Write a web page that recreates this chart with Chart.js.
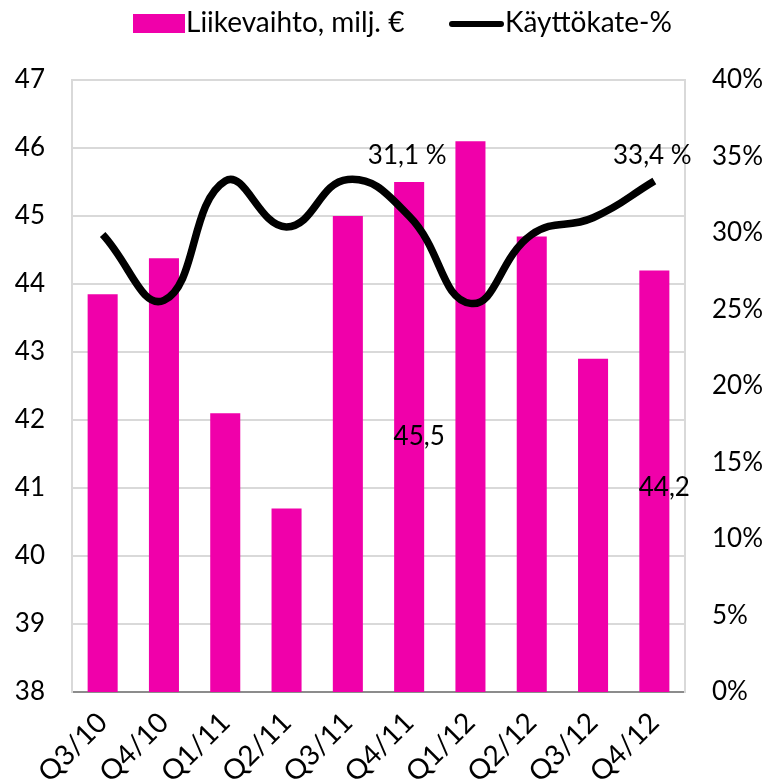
<!DOCTYPE html>
<html>
<head>
<meta charset="utf-8">
<script src="https://cdn.jsdelivr.net/npm/chart.js@4.4.0/dist/chart.umd.min.js"></script>
<style>
  html, body { margin: 0; padding: 0; background: #fff; }
  #wrap { width: 765px; height: 779px; }
</style>
</head>
<body>
<div id="wrap"><canvas id="chart"></canvas></div>
<script>
// Chart data
const quarters = ['Q3/10', 'Q4/10', 'Q1/11', 'Q2/11', 'Q3/11', 'Q4/11', 'Q1/12', 'Q2/12', 'Q3/12', 'Q4/12'];
const revenue = [43.85, 44.38, 42.1, 40.7, 45.0, 45.5, 46.1, 44.7, 42.9, 44.2];
const ebitdaPct = [29.9, 25.6, 33.4, 30.4, 33.5, 31.1, 25.4, 29.9, 31.0, 33.4];
const revenueLabels = ['', '', '', '', '', '45,5', '', '', '', '44,2'];
const ebitdaLabels = ['', '', '', '', '', '31,1 %', '', '', '', '33,4 %'];
const seriesNames = ['Liikevaihto, milj. €', 'Käyttökate-%'];

const MAGENTA = '#F000AA';
const labelFont = '26px Lato';
const legendFont = '28px Lato';
const tickFont = { family: 'Lato', size: 26 };

// Draw legend at the top and the data labels
const customDraw = {
    id: 'customDraw',
    afterDatasetsDraw(chart) {
        const ctx = chart.ctx;
        ctx.save();
        ctx.fillStyle = '#000';
        ctx.textBaseline = 'middle';

        // Legend
        const legendY = 23;
        ctx.font = legendFont;
        ctx.fillStyle = MAGENTA;
        ctx.fillRect(133, legendY - 9, 52, 19);
        ctx.fillStyle = '#000';
        ctx.textAlign = 'left';
        ctx.fillText(seriesNames[0], 186, legendY);
        ctx.strokeStyle = '#000';
        ctx.lineWidth = 6;
        ctx.lineCap = 'round';
        ctx.beginPath();
        ctx.moveTo(452, legendY + 1);
        ctx.lineTo(501, legendY + 1);
        ctx.stroke();
        ctx.fillText(seriesNames[1], 505, legendY);

        // Bar labels (centre of bar, nudged right)
        ctx.font = labelFont;
        ctx.textAlign = 'center';
        const yScale = chart.scales.y;
        const bottom = yScale.getPixelForValue(yScale.min);
        const barMeta = chart.getDatasetMeta(0);
        barMeta.data.forEach((bar, i) => {
            if (!revenueLabels[i]) return;
            const top = yScale.getPixelForValue(revenue[i]);
            const cy = (top + bottom) / 2;
            ctx.fillText(revenueLabels[i], bar.x + 10, cy + (i === 9 ? 6 : 0));
        });

        // Line labels (above point)
        const lineMeta = chart.getDatasetMeta(1);
        lineMeta.data.forEach((pt, i) => {
            if (!ebitdaLabels[i]) return;
            const dy = i === 5 ? 61 : 25;
            ctx.fillText(ebitdaLabels[i], pt.x - 2, pt.y - dy);
        });
        ctx.restore();
    }
};

const ctx = document.getElementById('chart').getContext('2d');
new Chart(ctx, {
    data: {
        labels: quarters,
        datasets: [
            {
                type: 'bar',
                label: seriesNames[0],
                data: revenue,
                backgroundColor: MAGENTA,
                yAxisID: 'y',
                categoryPercentage: 1.0,
                barPercentage: 0.49,
                order: 2
            },
            {
                type: 'line',
                label: seriesNames[1],
                data: ebitdaPct,
                borderColor: '#000',
                borderWidth: 7.5,
                pointRadius: 0,
                tension: 0.45,
                fill: false,
                yAxisID: 'y1',
                order: 1
            }
        ]
    },
    options: {
        responsive: true,
        maintainAspectRatio: false,
        animation: false,
        layout: { padding: { top: 80, left: 0, right: 0, bottom: 0 } },
        plugins: {
            legend: { display: false },
            tooltip: { enabled: false }
        },
        scales: {
            x: {
                grid: { display: false },
                border: { color: '#8c8c8c', width: 2 },
                ticks: {
                    color: '#000',
                    font: { family: 'Lato', size: 28 },
                    minRotation: 45,
                    maxRotation: 45,
                    padding: 6
                },
                afterFit(scale) { scale.height = 87; }
            },
            y: {
                position: 'left',
                min: 38,
                max: 47,
                ticks: { stepSize: 1, color: '#000', font: tickFont, padding: 27 },
                grid: { color: '#d9d9d9', lineWidth: 2, drawTicks: false },
                border: { color: '#d9d9d9', width: 2 },
                afterFit(scale) { scale.width = 72; }
            },
            y1: {
                position: 'right',
                min: 0,
                max: 40,
                ticks: {
                    stepSize: 5,
                    color: '#000',
                    font: tickFont,
                    padding: 27,
                    callback: v => v + '%'
                },
                grid: { display: false, drawTicks: false },
                border: { color: '#d9d9d9', width: 2 },
                afterFit(scale) { scale.width = 80; }
            }
        }
    },
    plugins: [customDraw]
});
</script>
</body>
</html>
